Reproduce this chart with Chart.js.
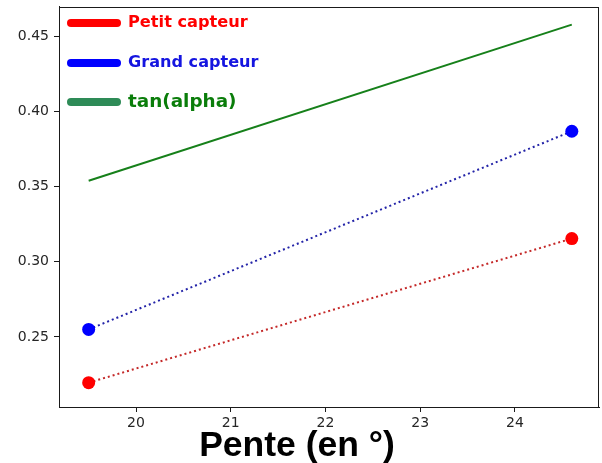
<!DOCTYPE html>
<html>
<head>
<meta charset="utf-8">
<script src="https://cdn.jsdelivr.net/npm/chart.js@4.4.1/dist/chart.umd.min.js"></script>
<style>
  html, body { margin: 0; padding: 0; background: #ffffff; overflow: hidden; }
  #wrap { width: 602px; height: 463px; }
  #c { display: block; }
</style>
</head>
<body>
<div id="wrap"><canvas id="c" width="602" height="463"></canvas></div>
<script>
// Slope angle (degrees) of the two measurements
const pentes = [19.5, 24.6];
// Measured ratios for each sensor
const petitCapteur = [0.2195, 0.3155];
const grandCapteur = [0.255, 0.387];
// Reference curve tan(alpha)
const tanAlpha = [0.354, 0.458];

// Tick labels
const xTicks = [20, 21, 22, 23, 24];
const yTicks = [0.25, 0.30, 0.35, 0.40, 0.45];

const labels = ['Petit capteur', 'Grand capteur', 'tan(alpha)'];
const xTitle = 'Pente (en °)';

const toPoints = (ys) => pentes.map((x, i) => ({ x: x, y: ys[i] }));

// Box around the plotting area, the axis title and the legend with thick round strokes
const framePlugin = {
  id: 'frameAndLegend',
  afterDraw(chart) {
    const ctx = chart.ctx;
    const a = chart.chartArea;
    ctx.save();
    ctx.strokeStyle = '#1a1a1a';
    ctx.lineWidth = 1;
    ctx.strokeRect(Math.round(a.left) + 0.5, Math.round(a.top) + 0.5,
                   Math.round(a.right - a.left) - 1, Math.round(a.bottom - a.top) - 1);

    ctx.font = 'bold 35.5px "Liberation Sans", Arial, sans-serif';
    ctx.fillStyle = '#000000';
    ctx.textAlign = 'center';
    ctx.textBaseline = 'alphabetic';
    ctx.fillText(xTitle, 297, 456);

    const entries = [
      { label: labels[0], line: '#ff0000', text: '#ff0000', y: 23, size: 16.2 },
      { label: labels[1], line: '#0000ff', text: '#1515e0', y: 63, size: 16.1 },
      { label: labels[2], line: '#2e8b57', text: '#0a7d0a', y: 102, size: 18.4 }
    ];
    entries.forEach(e => {
      ctx.beginPath();
      ctx.lineCap = 'round';
      ctx.lineWidth = 8;
      ctx.strokeStyle = e.line;
      ctx.moveTo(71, e.y);
      ctx.lineTo(117, e.y);
      ctx.stroke();
      ctx.font = 'bold ' + e.size + 'px "DejaVu Sans", sans-serif';
      ctx.fillStyle = e.text;
      ctx.textBaseline = 'middle';
      ctx.textAlign = 'left';
      ctx.fillText(e.label, 128, e.y);
    });
    ctx.restore();
  }
};

const zeroPadding = (s) => {
  s.paddingTop = 0; s.paddingBottom = 0; s.paddingLeft = 0; s.paddingRight = 0;
};

new Chart(document.getElementById('c'), {
  type: 'scatter',
  data: {
    datasets: [
      {
        label: labels[0],
        data: toPoints(petitCapteur),
        showLine: true,
        borderColor: '#c42828',
        borderWidth: 2,
        borderDash: [2, 3],
        pointRadius: 6.5,
        pointBackgroundColor: '#ff0000',
        pointBorderColor: '#ff0000',
        pointBorderWidth: 0
      },
      {
        label: labels[1],
        data: toPoints(grandCapteur),
        showLine: true,
        borderColor: '#2424a8',
        borderWidth: 2,
        borderDash: [2, 3],
        pointRadius: 6.5,
        pointBackgroundColor: '#0000ff',
        pointBorderColor: '#0000ff',
        pointBorderWidth: 0
      },
      {
        label: labels[2],
        data: toPoints(tanAlpha),
        showLine: true,
        borderColor: '#16801a',
        borderWidth: 2,
        pointRadius: 0
      }
    ]
  },
  options: {
    responsive: false,
    animation: false,
    layout: { autoPadding: false, padding: { top: 6.5, right: 3, left: 0, bottom: 0 } },
    plugins: {
      legend: { display: false },
      tooltip: { enabled: false }
    },
    scales: {
      x: {
        type: 'linear',
        min: 19.187,
        max: 24.887,
        afterBuildTicks: (s) => { s.ticks = xTicks.map(v => ({ value: v })); },
        afterFit: (s) => { s.height = 56; zeroPadding(s); },
        grid: { display: true, drawOnChartArea: false, drawTicks: true, tickLength: 5, color: '#1a1a1a' },
        border: { display: true, color: '#1a1a1a', width: 1 },
        ticks: {
          color: '#262626',
          padding: 3,
          maxRotation: 0,
          autoSkip: false,
          font: { family: '"DejaVu Sans", sans-serif', size: 14 },
          callback: (v) => String(v)
        }
      },
      y: {
        type: 'linear',
        min: 0.2033,
        max: 0.4701,
        afterBuildTicks: (s) => { s.ticks = yTicks.map(v => ({ value: v })); },
        afterFit: (s) => { s.width = 59; zeroPadding(s); },
        grid: { display: true, drawOnChartArea: false, drawTicks: true, tickLength: 5, color: '#1a1a1a' },
        border: { display: true, color: '#1a1a1a', width: 1 },
        ticks: {
          color: '#262626',
          padding: 5,
          autoSkip: false,
          font: { family: '"DejaVu Sans", sans-serif', size: 14 },
          callback: (v) => v.toFixed(2)
        }
      }
    }
  },
  plugins: [framePlugin]
});
</script>
</body>
</html>
